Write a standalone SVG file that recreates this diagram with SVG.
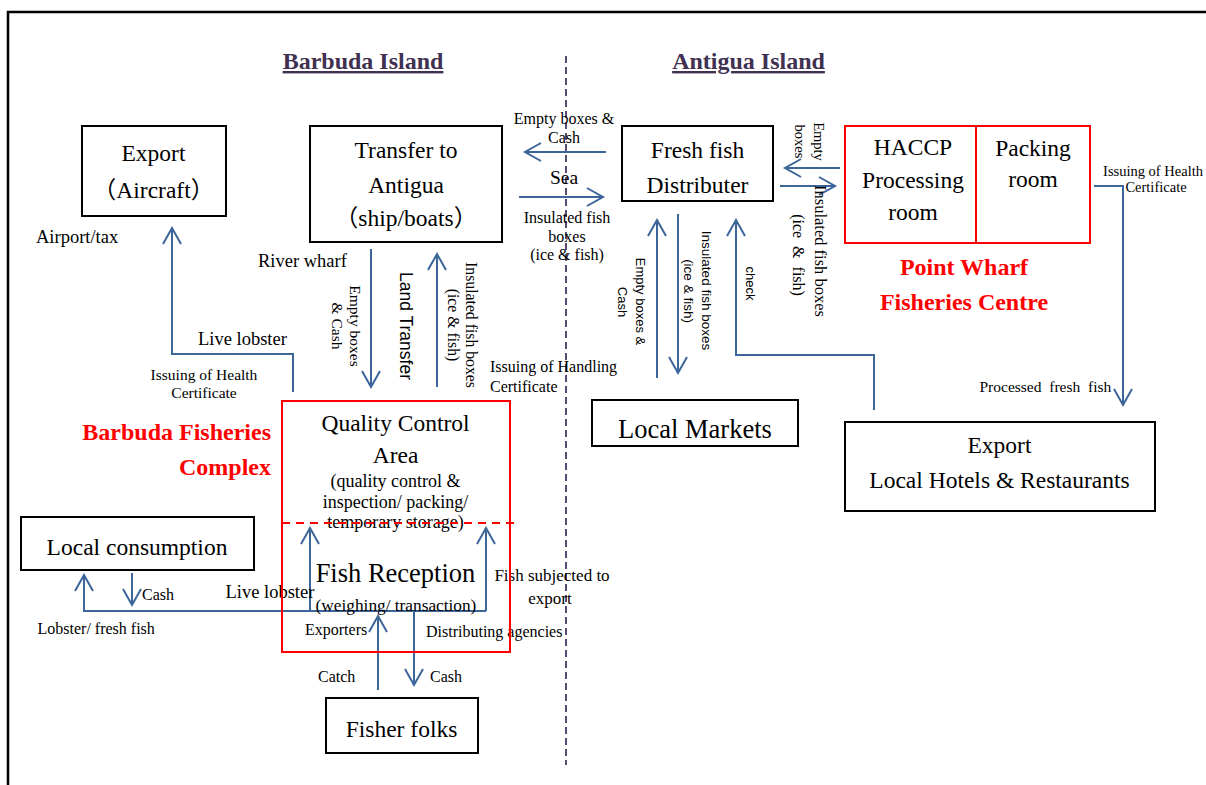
<svg xmlns="http://www.w3.org/2000/svg" width="1206" height="785" viewBox="0 0 1206 785">
<style>
.box{fill:#fff;stroke:#000;stroke-width:2}
.rbox{fill:none;stroke:#ff0000;stroke-width:2}
.t{font-family:"Liberation Serif","Noto Sans CJK JP",serif;font-size:23.5px;fill:#000;text-anchor:middle}
.s{font-family:"Liberation Serif",serif;fill:#000}
.ss{font-family:"Liberation Sans",sans-serif;fill:#000;text-anchor:middle}
.red{font-family:"Liberation Serif",serif;font-weight:bold;font-size:24px;fill:#ff0000}
.isl{font-family:"Liberation Serif",serif;font-weight:bold;font-size:24px;fill:#403152;text-anchor:middle;text-decoration:underline}
.c{fill:none;stroke:#3c659a;stroke-width:2}
.m{text-anchor:middle}
</style>
<defs>
<marker id="ah" viewBox="-19 -11 22 22" refX="0" refY="0" markerWidth="22" markerHeight="22" markerUnits="userSpaceOnUse" orient="auto">
<path d="M-16,-9 L0,0 L-16,9" fill="none" stroke="#3c659a" stroke-width="2"/>
</marker>
</defs>
<rect width="1206" height="785" fill="#fff"/>
<path d="M8,785 V12 H1206" fill="none" stroke="#000" stroke-width="2.5"/>
<line x1="566" y1="56" x2="566" y2="765" stroke="#574d74" stroke-width="2" stroke-dasharray="7 4"/>
<text class="isl" x="363" y="69">Barbuda Island</text>
<text class="isl" x="748.5" y="69">Antigua Island</text>

<g id="connectors">
<path class="c" d="M293,392 V354 H172 V228" marker-end="url(#ah)"/>
<path class="c" d="M371,249 V387" marker-end="url(#ah)"/>
<path class="c" d="M437,387 V254" marker-end="url(#ah)"/>
<path class="c" d="M606,152 H525" marker-end="url(#ah)"/>
<path class="c" d="M519,197 H603" marker-end="url(#ah)"/>
<path class="c" d="M840,168 H785" marker-end="url(#ah)"/>
<path class="c" d="M780,186 H835" marker-end="url(#ah)"/>
<path class="c" d="M657,378 V220" marker-end="url(#ah)"/>
<path class="c" d="M678,214 V373" marker-end="url(#ah)"/>
<path class="c" d="M874,410 V355 H736 V220" marker-end="url(#ah)"/>
<path class="c" d="M1094,186 H1123 V405" marker-end="url(#ah)"/>
<path class="c" d="M486,611 H84 V575" marker-end="url(#ah)"/>
<path class="c" d="M486,611 V528" marker-end="url(#ah)"/>
<path class="c" d="M310,611 V528" marker-end="url(#ah)"/>
<path class="c" d="M132,573 V605" marker-end="url(#ah)"/>
<path class="c" d="M378,690 V616" marker-end="url(#ah)"/>
<path class="c" d="M414,611 V685" marker-end="url(#ah)"/>
</g>

<g id="labels">
<text class="s" x="36" y="243" font-size="18.5">Airport/tax</text>
<text class="s" x="258" y="267" font-size="18.5">River wharf</text>
<text class="s" x="198" y="345" font-size="18.5">Live lobster</text>
<text class="s m" x="204" y="379.5" font-size="15.5">Issuing of Health</text>
<text class="s m" x="204" y="398" font-size="15.5">Certificate</text>
<text class="s" x="490" y="371.5" font-size="16">Issuing of Handling</text>
<text class="s" x="490" y="392" font-size="16">Certificate</text>
<text class="s m" x="564" y="123.5" font-size="16">Empty boxes &amp;</text>
<text class="s m" x="564" y="142.5" font-size="16">Cash</text>
<text class="s m" x="564" y="184" font-size="19.5">Sea</text>
<text class="s m" x="567" y="222.5" font-size="16">Insulated fish</text>
<text class="s m" x="567" y="241.5" font-size="16">boxes</text>
<text class="s m" x="567" y="259.5" font-size="16">(ice &amp; fish)</text>
<text class="s m" x="1153" y="175.5" font-size="14.5">Issuing of Health</text>
<text class="s m" x="1156" y="192" font-size="14.5">Certificate</text>
<text class="s" x="979.5" y="391.5" font-size="15.5" style="white-space:pre">Processed  fresh  fish</text>
<text class="s m" x="552" y="581" font-size="17">Fish subjected to</text>
<text class="s m" x="550" y="604" font-size="17">export</text>
<text class="s" x="225.5" y="598" font-size="18.5">Live lobster</text>
<text class="s" x="142" y="599.5" font-size="16">Cash</text>
<text class="s" x="37.5" y="633.5" font-size="16">Lobster/ fresh fish</text>
<text class="s" x="305" y="634.5" font-size="16">Exporters</text>
<text class="s" x="426" y="636.5" font-size="16">Distributing agencies</text>
<text class="s" x="318" y="681.5" font-size="16">Catch</text>
<text class="s" x="430" y="681.5" font-size="16">Cash</text>
<text class="s m" font-size="15.5" transform="translate(355,326) rotate(90)" y="4.6">Empty boxes</text>
<text class="s m" font-size="15.5" transform="translate(337,326) rotate(90)" y="4.6">&amp; Cash</text>
<text class="ss" font-size="17.5" transform="translate(405,326) rotate(90)" y="5.5">Land Transfer</text>
<text class="s m" font-size="15.75" transform="translate(471,325) rotate(90)" y="4.7">Insulated fish boxes</text>
<text class="s m" font-size="15.75" transform="translate(453,325) rotate(90)" y="4.7">(ice &amp; fish)</text>
<text class="ss" font-size="13" transform="translate(640,301.5) rotate(90)" y="4">Empty boxes &amp;</text>
<text class="ss" font-size="13" transform="translate(622,302) rotate(90)" y="4">Cash</text>
<text class="ss" font-size="13.5" transform="translate(706,290.5) rotate(90)" y="4">Insulated fish boxes</text>
<text class="ss" font-size="13.5" transform="translate(688,291) rotate(90)" y="4">(ice &amp; fish)</text>
<text class="ss" font-size="13" transform="translate(749.5,283.5) rotate(90)" y="4">check</text>
<text class="s m" font-size="14.5" transform="translate(818,141.5) rotate(90)" y="4.4">Empty</text>
<text class="s m" font-size="14.5" transform="translate(799,141.5) rotate(90)" y="4.4">boxes</text>
<text class="s m" font-size="16.5" transform="translate(820,251) rotate(90)" y="5">Insulated fish boxes</text>
<text class="s m" font-size="16" transform="translate(798,255) rotate(90)" y="4.8" word-spacing="4">(ice &amp; fish)</text>
</g>

<g id="export-aircraft">
<rect class="box" x="82" y="126" width="144" height="90"/>
<text class="t" x="153.5" y="161">Export</text>
<text class="t" x="153.5" y="198">（Aircraft）</text>
</g>
<g id="transfer-antigua">
<rect class="box" x="310" y="126" width="192" height="116"/>
<text class="t" x="406" y="158">Transfer to</text>
<text class="t" x="406" y="193">Antigua</text>
<text class="t" x="406" y="226">（ship/boats）</text>
</g>
<g id="fresh-fish-distributer">
<rect class="box" x="622" y="126" width="151" height="75"/>
<text class="t" x="697.5" y="158">Fresh fish</text>
<text class="t" x="697.5" y="193">Distributer</text>
</g>
<g id="haccp">
<rect class="rbox" x="845" y="126" width="245" height="117"/>
<line x1="976" y1="126" x2="976" y2="243" stroke="#ff0000" stroke-width="2"/>
<text class="t" x="913" y="155">HACCP</text>
<text class="t" x="913" y="188">Processing</text>
<text class="t" x="913" y="220">room</text>
<text class="t" x="1033" y="156">Packing</text>
<text class="t" x="1033" y="187">room</text>
</g>
<g id="point-wharf">
<text class="red m" x="964" y="275">Point Wharf</text>
<text class="red m" x="964" y="310">Fisheries Centre</text>
</g>
<g id="local-markets">
<rect class="box" x="592" y="400" width="206" height="46"/>
<text class="t" x="695" y="438" style="font-size:26.5px">Local Markets</text>
</g>
<g id="export-hotels">
<rect class="box" x="845" y="422" width="310" height="89"/>
<text class="t" x="999.5" y="453">Export</text>
<text class="t" x="999.5" y="488">Local Hotels &amp; Restaurants</text>
</g>
<g id="barbuda-complex">
<text class="red" x="271" y="440" text-anchor="end">Barbuda Fisheries</text>
<text class="red" x="271" y="475" text-anchor="end">Complex</text>
</g>
<g id="quality-control">
<rect class="rbox" x="282" y="401" width="228" height="251"/>
<text class="t" x="395.5" y="431">Quality Control</text>
<text class="t" x="395.5" y="463">Area</text>
<text class="s m" x="395.5" y="487" font-size="18">(quality control &amp;</text>
<text class="s m" x="395.5" y="508" font-size="18">inspection/ packing/</text>
<text class="s m" x="395.5" y="528" font-size="18">temporary storage)</text>
<line x1="282" y1="523" x2="520" y2="523" stroke="#ff0000" stroke-width="2" stroke-dasharray="8 6"/>
</g>
<g id="fish-reception">
<text class="t" x="395.5" y="582" style="font-size:26.5px">Fish Reception</text>
<text class="s m" x="396" y="611" font-size="17.3">(weighing/ transaction)</text>
</g>
<g id="local-consumption">
<rect class="box" x="21" y="517" width="233" height="53"/>
<text class="t" x="137" y="555">Local consumption</text>
</g>
<g id="fisher-folks">
<rect class="box" x="326" y="698" width="152" height="55"/>
<text class="t" x="401.5" y="737">Fisher folks</text>
</g>
</svg>
